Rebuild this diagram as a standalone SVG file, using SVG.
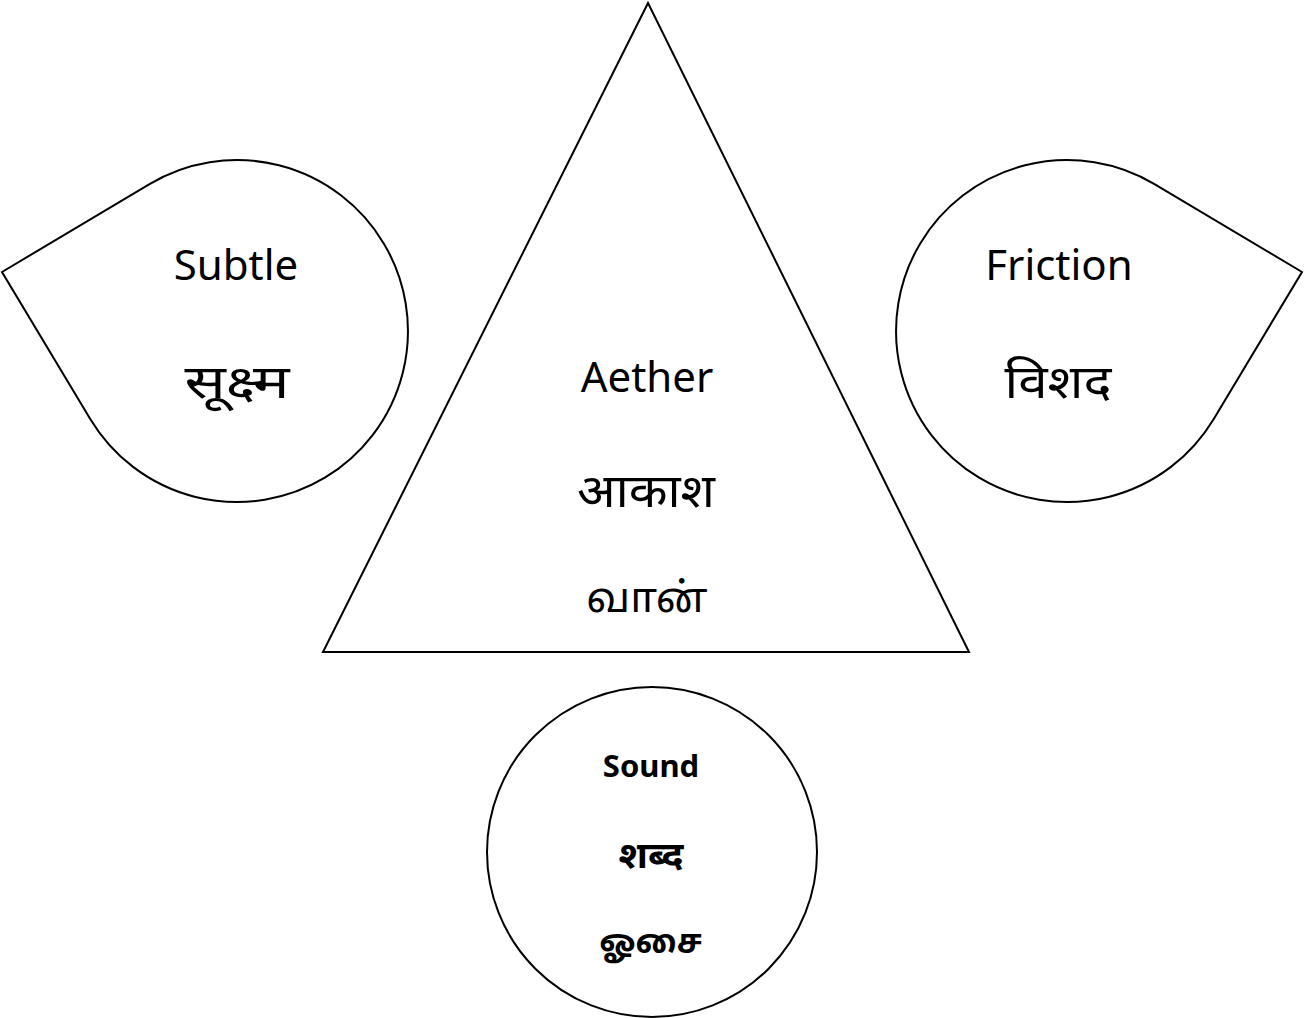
<svg xmlns="http://www.w3.org/2000/svg" width="1304" height="1018" viewBox="0 0 1304 1018">
  <style>
    .shape { fill: #ffffff; stroke: #000000; stroke-width: 2; }
    .lbl { font-family: "Noto Sans", "Noto Sans Devanagari", "Noto Sans Tamil", "Open Sans", sans-serif; font-size: 42px; fill: #000000; text-anchor: middle; }
    .big { font-size: 46px; }
    .bold { font-weight: bold; font-size: 31px; }
    .bdev { font-size: 36px; }
    .btam { font-size: 33px; }
  </style>
  <rect x="0" y="0" width="1304" height="1018" fill="#ffffff"/>
  <g id="connectors"></g>
  <g id="node-aether">
    <polygon class="shape" points="648,3 323,652 969,652"/>
    <text class="lbl" x="647" y="392">Aether</text>
    <text class="lbl big" x="646" y="507" textLength="138" lengthAdjust="spacingAndGlyphs">आकाश</text>
    <text class="lbl" x="647" y="612">வான்</text>
  </g>
  <g id="node-subtle">
    <path class="shape" d="M 2 272 L 149.5 184.1 A 171 171 0 1 1 90.4 419.2 Z"/>
    <text class="lbl" x="236" y="280">Subtle</text>
    <text class="lbl big" x="237" y="398" textLength="105" lengthAdjust="spacingAndGlyphs">सूक्ष्म</text>
  </g>
  <g id="node-friction">
    <path class="shape" d="M 1302 272 L 1154.5 184.1 A 171 171 0 1 0 1213.6 419.2 Z"/>
    <text class="lbl" x="1059" y="280">Friction</text>
    <text class="lbl big" x="1058" y="398" textLength="107" lengthAdjust="spacingAndGlyphs">विशद</text>
  </g>
  <g id="node-sound">
    <circle class="shape" cx="652" cy="852" r="165"/>
    <text class="lbl bold" x="651" y="777">Sound</text>
    <text class="lbl bold bdev" x="651" y="868" textLength="65" lengthAdjust="spacingAndGlyphs">शब्द</text>
    <text class="lbl bold btam" x="651" y="953" textLength="103" lengthAdjust="spacingAndGlyphs">ஓசை</text>
  </g>
</svg>
